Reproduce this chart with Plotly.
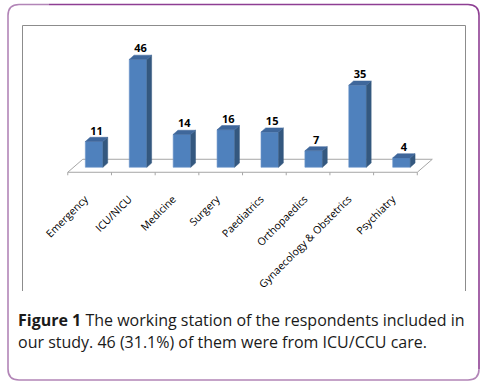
import plotly.graph_objects as go

categories = ["Emergency", "ICU/NICU", "Medicine", "Surgery", "Paediatrics",
              "Orthopaedics", "Gynaecology & Obstetrics", "Psychiatry"]
counts = [11, 46, 14, 16, 15, 7, 35, 4]

caption_bold = "Figure 1"
caption_line1 = " The working station of the respondents included in"
caption_line2 = "our study. 46 (31.1%) of them were from ICU/CCU care."

W, H = 486, 384
ML, MR, MT, MB = 59, 45, 50, 205
XR = [-0.8, 7.9]
YR = [-5, 50]
PW = W - ML - MR
PH = H - MT - MB
XPX = PW / (XR[1] - XR[0])
YPX = PH / (YR[1] - YR[0])


def px(x):
    return (x - ML) / PW


def py(y):
    return (H - MB - y) / PH


FRONT = "#4F81BD"
SIDE = "#34587F"
TOP = "#3F679B"
BW = 0.4
DX = 4.8 / XPX
DY = 4.2 / YPX

fig = go.Figure()

# side faces and top faces derived from the data
for i, v in enumerate(counts):
    r = i + BW / 2
    l = i - BW / 2
    fig.add_trace(go.Scatter(
        x=[r, r + DX, r + DX, r, r], y=[0, DY, v + DY, v, 0],
        fill="toself", fillcolor=SIDE, mode="lines",
        line=dict(color=SIDE, width=0.5), hoverinfo="skip", showlegend=False))
    fig.add_trace(go.Scatter(
        x=[l, l + DX, r + DX, r, l], y=[v, v + DY, v + DY, v, v],
        fill="toself", fillcolor=TOP, mode="lines",
        line=dict(color=TOP, width=0.5), hoverinfo="skip", showlegend=False))

fig.add_trace(go.Bar(
    x=list(range(len(categories))), y=counts, width=BW,
    marker=dict(color=FRONT, line=dict(color="#6E97CB", width=0.6)),
    hoverinfo="skip", showlegend=False))

fig.add_trace(go.Scatter(
    x=[i + DX / 2 for i in range(len(counts))], y=[v + DY for v in counts],
    mode="text", text=[str(v) for v in counts], textposition="top center",
    textfont=dict(family="Open Sans", size=11, color="#000000", weight="bold"),
    cliponaxis=False, hoverinfo="skip", showlegend=False))

# floor (3D base)
n = len(categories)
yf = -5 / YPX
yb = 8 / YPX
xf0, xf1 = -0.6, n - 0.64
sh = 15 / XPX
floor = (f"M {xf0} {yf} L {xf1} {yf} L {xf1 + sh} {yb} L {xf0 + sh} {yb} Z")
shapes = [dict(type="path", path=floor, xref="x", yref="y", layer="below",
               line=dict(color="#A6A6A6", width=1), fillcolor="white")]
for k in range(n + 1):
    xt = xf0 + k * (xf1 - xf0) / n
    shapes.append(dict(type="line", xref="x", yref="y", layer="below",
                       x0=xt, x1=xt, y0=yf, y1=yf - 3 / YPX,
                       line=dict(color="#A6A6A6", width=1)))

# chart frame (gray, open at bottom)
shapes.append(dict(type="path", xref="paper", yref="paper",
                   path=f"M {px(22.5)} {py(291)} L {px(22.5)} {py(25.5)} L {px(465.5)} {py(25.5)} L {px(465.5)} {py(291)}",
                   line=dict(color="#8C8C8C", width=1)))

# outer rounded purple frame
x0o, x1o, y0o, y1o, r = 8, 479, 4.5, 380, 11
left_bottom = (f"M {px(x0o + r + 30)} {py(y0o)} L {px(x0o + r)} {py(y0o)} "
               f"Q {px(x0o)} {py(y0o)} {px(x0o)} {py(y0o + r)} "
               f"L {px(x0o)} {py(y1o - r)} Q {px(x0o)} {py(y1o)} {px(x0o + r)} {py(y1o)} "
               f"L {px(x1o - r)} {py(y1o)} Q {px(x1o)} {py(y1o)} {px(x1o)} {py(y1o - r)}")
top_right = (f"M {px(x0o + r + 30)} {py(y0o)} L {px(x1o - r)} {py(y0o)} "
             f"Q {px(x1o)} {py(y0o)} {px(x1o)} {py(y0o + r)} L {px(x1o)} {py(y1o - r)}")
shapes.append(dict(type="path", xref="paper", yref="paper", path=left_bottom,
                   line=dict(color="#B285B7", width=1.6)))
shapes.append(dict(type="path", xref="paper", yref="paper", path=top_right,
                   line=dict(color="#8E3F93", width=1.6)))

annotations = [
    dict(xref="paper", yref="paper", x=px(16), y=py(320), xanchor="left", yanchor="middle",
         text=f"<b>{caption_bold}</b>{caption_line1}", showarrow=False,
         font=dict(family="Open Sans", size=16, color="#1a1a1a")),
    dict(xref="paper", yref="paper", x=px(16), y=py(342), xanchor="left", yanchor="middle",
         text=caption_line2, showarrow=False,
         font=dict(family="Open Sans", size=16, color="#1a1a1a")),
]

fig.update_layout(
    width=W, height=H, margin=dict(l=ML, r=MR, t=MT, b=MB),
    paper_bgcolor="white", plot_bgcolor="rgba(0,0,0,0)",
    shapes=shapes, annotations=annotations, barmode="overlay",
    xaxis=dict(range=XR, tickmode="array", tickvals=list(range(n)), ticktext=categories,
               tickangle=-45, showgrid=False, zeroline=False, showline=False, ticks="",
               tickfont=dict(family="Open Sans", size=10.5, color="#000000"),
               ticklabelshift=-9, ticklabelstandoff=11, fixedrange=True),
    yaxis=dict(range=YR, visible=False, fixedrange=True),
)

fig.write_html("out.html", post_script="document.body.style.margin='0';",
               config={"displayModeBar": False})
